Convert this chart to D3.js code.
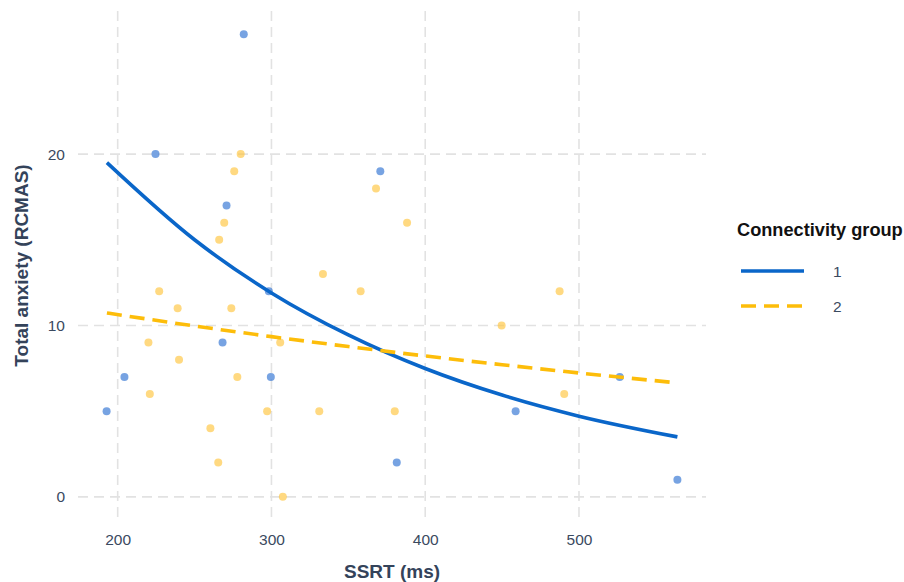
<!DOCTYPE html>
<html>
<head>
<meta charset="utf-8">
<script src="https://cdn.jsdelivr.net/npm/d3@7"></script>
<title>SSRT vs anxiety</title>
<style>
  body { margin: 0; background: #fff; }
  svg text { font-family: "Liberation Sans", Arial, Helvetica, sans-serif; }
</style>
</head>
<body>
<div id="chart"></div>
<script>
// group 1 observations
var g1SSRT    = [282, 224.6, 270.8, 370.8, 298.3, 268.2, 204.4, 299.6, 192.8, 526.5, 458.8, 381.5, 564];
var g1Anxiety = [27, 20, 17, 19, 12, 9, 7, 7, 5, 7, 5, 2, 1];
// group 2 observations
var g2SSRT    = [280, 275.8, 269.3, 266, 368, 388.2, 333.5, 358, 227, 239, 273.9, 220, 305.7, 239.9, 277.8, 220.9, 297.2, 331.1, 260.3, 265.4, 307.4, 487.4, 449.7, 490.4, 380.2];
var g2Anxiety = [20, 19, 16, 15, 18, 16, 13, 12, 12, 11, 11, 9, 9, 8, 7, 6, 5, 5, 4, 2, 0, 12, 10, 6, 5];
// fitted curves
var fitX  = [193, 250, 300, 350, 400, 450, 500, 564];
var fit1Y = [19.5, 15.0, 11.9, 9.45, 7.49, 5.94, 4.71, 3.5];
var fit2Y = [10.73, 9.97, 9.35, 8.77, 8.22, 7.71, 7.23, 6.65];

var xTicks = [200, 300, 400, 500];
var yTicks = [0, 10, 20];
var groups = ["1", "2"];

var W = 904, H = 582;
var pLeft = 78, pRight = 706, pTop = 11, pBottom = 520;

var svg = d3.select("#chart").append("svg")
  .attr("width", W).attr("height", H);

var x = d3.scaleLinear().domain([174.2, 582.6]).range([pLeft, pRight]);
var y = d3.scaleLinear().domain([-1.35, 28.35]).range([pBottom, pTop]);

// grid
var grid = svg.append("g")
  .attr("stroke", "#e2e2e2").attr("stroke-width", 1.6).attr("stroke-dasharray", "10,6");
grid.selectAll(".vx").data(xTicks).enter().append("line")
  .attr("x1", function(d){ return x(d); }).attr("x2", function(d){ return x(d); })
  .attr("y1", pTop).attr("y2", pBottom);
grid.selectAll(".hy").data(yTicks).enter().append("line")
  .attr("y1", function(d){ return y(d); }).attr("y2", function(d){ return y(d); })
  .attr("x1", pLeft).attr("x2", pRight);

// axes (labels only)
var xAxis = svg.append("g").attr("transform", "translate(0," + (pBottom + 5) + ")")
  .call(d3.axisBottom(x).tickValues(xTicks).tickSize(0).tickPadding(9));
var yAxis = svg.append("g").attr("transform", "translate(" + (pLeft - 5) + ",0)")
  .call(d3.axisLeft(y).tickValues(yTicks).tickSize(0).tickPadding(8));
[xAxis, yAxis].forEach(function(a){
  a.select(".domain").remove();
  a.selectAll("text").attr("fill", "#3b4a5f").style("font-size", "15.5px");
});

svg.append("text")
  .attr("x", (pLeft + pRight) / 2).attr("y", 578)
  .attr("text-anchor", "middle")
  .attr("fill", "#34435a").style("font-size", "19px").style("font-weight", "bold")
  .text("SSRT (ms)");
svg.append("text")
  .attr("transform", "translate(28," + ((pTop + pBottom) / 2) + ") rotate(-90)")
  .attr("text-anchor", "middle")
  .attr("fill", "#34435a").style("font-size", "19px").style("font-weight", "bold")
  .text("Total anxiety (RCMAS)");

// points
var pts1 = g1SSRT.map(function(d, i){ return [d, g1Anxiety[i]]; });
var pts2 = g2SSRT.map(function(d, i){ return [d, g2Anxiety[i]]; });

svg.append("g").selectAll("circle").data(pts2).enter().append("circle")
  .attr("cx", function(d){ return x(d[0]); }).attr("cy", function(d){ return y(d[1]); })
  .attr("r", 4).attr("fill", "#ffc43d").attr("fill-opacity", 0.65);
svg.append("g").selectAll("circle").data(pts1).enter().append("circle")
  .attr("cx", function(d){ return x(d[0]); }).attr("cy", function(d){ return y(d[1]); })
  .attr("r", 4).attr("fill", "#2e72d2").attr("fill-opacity", 0.65);

// fitted lines
var line = d3.line()
  .x(function(d){ return x(d[0]); }).y(function(d){ return y(d[1]); })
  .curve(d3.curveMonotoneX);
svg.append("path").datum(fitX.map(function(d, i){ return [d, fit1Y[i]]; }))
  .attr("d", line).attr("fill", "none")
  .attr("stroke", "#0a66c9").attr("stroke-width", 3.6);
svg.append("path").datum(fitX.map(function(d, i){ return [d, fit2Y[i]]; }))
  .attr("d", line).attr("fill", "none")
  .attr("stroke", "#fdbd0a").attr("stroke-width", 3.6).attr("stroke-dasharray", "15,8");

// legend
var lg = svg.append("g").attr("transform", "translate(737,0)");
lg.append("text").attr("x", 0).attr("y", 236)
  .attr("fill", "#111").style("font-size", "18.2px").style("font-weight", "bold")
  .text("Connectivity group");
var styles = [{ c: "#0a66c9", dash: null }, { c: "#fdbd0a", dash: "15,8" }];
groups.forEach(function(g, i){
  var yy = 271 + i * 35;
  lg.append("line").attr("x1", 4).attr("x2", 67).attr("y1", yy).attr("y2", yy)
    .attr("stroke", styles[i].c).attr("stroke-width", 3.6)
    .attr("stroke-dasharray", styles[i].dash);
  lg.append("text").attr("x", 96).attr("y", yy + 6)
    .attr("fill", "#3b4a5f").style("font-size", "15.5px").text(g);
});
</script>
</body>
</html>
